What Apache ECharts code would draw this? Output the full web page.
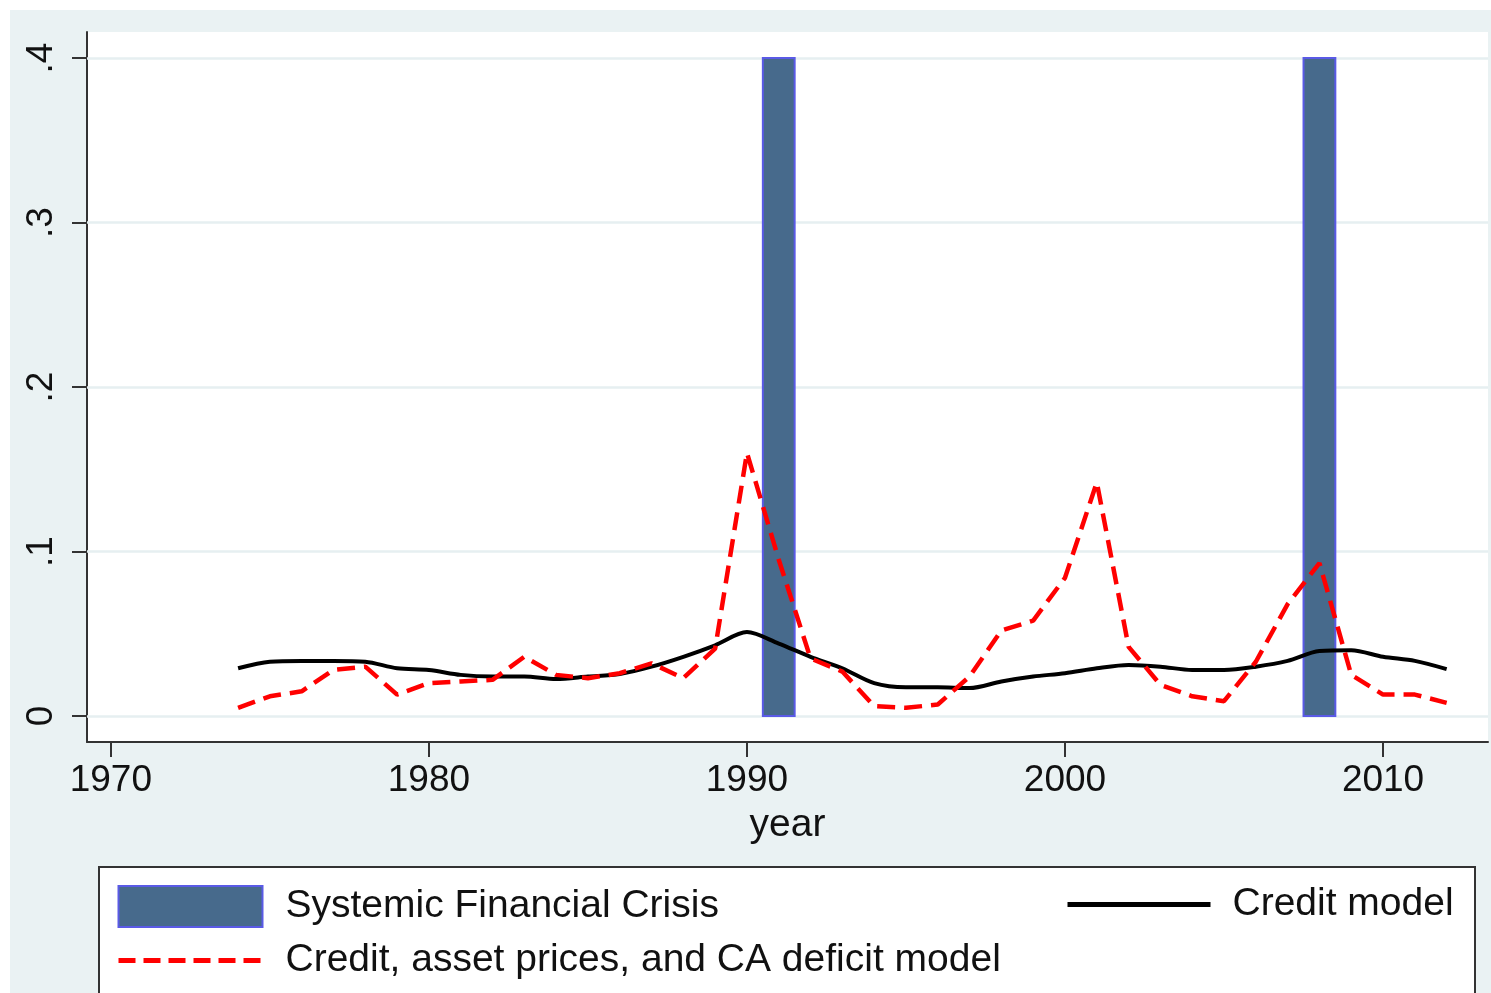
<!DOCTYPE html>
<html>
<head>
<meta charset="utf-8">
<script src="https://cdn.jsdelivr.net/npm/echarts@6/dist/echarts.min.js"></script>
<style>
html,body{margin:0;padding:0;background:#fff;}
#chart{width:1491px;height:993px;}
</style>
</head>
<body>
<div id="chart"></div>
<script>
// ---- data ----
const years = [1974,1975,1976,1977,1978,1979,1980,1981,1982,1983,1984,1985,1986,1987,1988,1989,1990,1991,1992,1993,1994,1995,1996,1997,1998,1999,2000,2001,2002,2003,2004,2005,2006,2007,2008,2009,2010,2011,2012];
const creditModel = [0.029,0.033,0.0335,0.0335,0.033,0.029,0.028,0.025,0.024,0.024,0.0225,0.024,0.0255,0.030,0.036,0.043,0.051,0.044,0.036,0.029,0.020,0.0175,0.0175,0.017,0.021,0.024,0.026,0.029,0.031,0.030,0.028,0.028,0.030,0.0335,0.0395,0.040,0.036,0.0335,0.0285];
const creditAssetCAModel = [0.005,0.012,0.015,0.028,0.030,0.013,0.020,0.021,0.022,0.036,0.025,0.023,0.026,0.032,0.023,0.041,0.160,0.095,0.035,0.027,0.006,0.005,0.007,0.024,0.052,0.058,0.084,0.142,0.042,0.019,0.012,0.009,0.033,0.068,0.093,0.025,0.013,0.013,0.008];
const crisisYears = [1991, 2008];
const crisisHeight = 0.4;
const xTicks = [1970, 1980, 1990, 2000, 2010];
const yTicks = [0, 0.1, 0.2, 0.3, 0.4];
const yTickLabels = ['0', '.1', '.2', '.3', '.4'];

const FONT = "'Liberation Sans', Arial, sans-serif";
const chart = echarts.init(document.getElementById('chart'));

const pair = (a, b) => a.map((v, i) => [v, b[i]]);
const hiddenSymbol = { color: 'rgba(0,0,0,0)', borderColor: 'rgba(0,0,0,0)', borderWidth: 0, opacity: 0 };

chart.setOption({
  backgroundColor: '#ffffff',
  animation: false,
  textStyle: { fontFamily: FONT },
  graphic: [
    { type: 'rect', z: -100, shape: { x: 10, y: 10, width: 1481, height: 983 }, style: { fill: '#eaf2f3' } },
    { type: 'text', z: -90, style: { x: 688, y: 21, text: 'Sweden', fontSize: 52, fontWeight: 'bold', fontFamily: FONT, fill: '#1e3f66', textVerticalAlign: 'bottom' } },
    { type: 'rect', z: -60, shape: { x: 0, y: 0, width: 1491, height: 10 }, style: { fill: '#ffffff' } },
    { type: 'rect', z: -60, shape: { x: 0, y: 0, width: 10, height: 993 }, style: { fill: '#ffffff' } },
    { type: 'rect', z: -50, shape: { x: 99, y: 867, width: 1376, height: 140 }, style: { fill: '#ffffff', stroke: '#333333', lineWidth: 2 } }
  ],
  grid: {
    left: 87, right: 3, top: 32, bottom: 251,
    show: true, backgroundColor: '#ffffff', borderWidth: 0
  },
  xAxis: {
    type: 'value',
    min: 1969.25, max: 2013.3,
    name: 'year', nameLocation: 'middle', nameGap: 64,
    nameTextStyle: { fontSize: 39, color: '#111', fontFamily: FONT },
    axisLine: { show: true, onZero: false, lineStyle: { color: '#333', width: 2 } },
    axisTick: { show: true, length: 15, customValues: xTicks, lineStyle: { color: '#333', width: 2 } },
    axisLabel: { customValues: xTicks, fontSize: 37, color: '#111', margin: 20, fontFamily: FONT, formatter: v => String(v) },
    splitLine: { show: false }
  },
  yAxis: {
    type: 'value',
    min: -0.0158, max: 0.4158,
    axisLine: { show: true, onZero: false, lineStyle: { color: '#333', width: 2 } },
    axisTick: { show: true, length: 15, customValues: yTicks, lineStyle: { color: '#333', width: 2 } },
    axisLabel: {
      customValues: yTicks, rotate: 90, fontSize: 37, color: '#111', margin: 27, fontFamily: FONT,
      formatter: v => { const i = yTicks.findIndex(t => Math.abs(t - v) < 1e-9); return i >= 0 ? yTickLabels[i] : ''; }
    },
    splitLine: { show: false }
  },
  legend: [
    {
      orient: 'vertical', left: 116, top: 885, padding: 0,
      itemWidth: 144, itemHeight: 41, itemGap: 13,
      textStyle: { fontSize: 39, color: '#111', fontFamily: FONT, padding: [0, 0, 0, 18] },
      data: [
        { name: 'Systemic Financial Crisis', icon: 'rect', itemStyle: { color: '#476a8c', borderColor: '#5a5ae6', borderWidth: 2 } },
        { name: 'Credit, asset prices, and CA deficit model', itemStyle: hiddenSymbol,
          lineStyle: { color: '#ff0000', width: 5, type: [17, 8] } }
      ]
    },
    {
      orient: 'vertical', left: 1065, top: 885, padding: 0,
      itemWidth: 143, itemHeight: 41,
      textStyle: { fontSize: 39, color: '#111', fontFamily: FONT, padding: [0, 0, 0, 17] },
      data: [{ name: 'Credit model', itemStyle: hiddenSymbol, lineStyle: { color: '#000', width: 5, type: 'solid' } }]
    }
  ],
  series: [
    {
      name: 'Grid', type: 'line', data: [], silent: true, z: 1,
      markLine: {
        silent: true, symbol: 'none', label: { show: false }, z: 1,
        lineStyle: { color: '#e6eff1', width: 2.5, type: 'solid' },
        data: yTicks.map(v => ({ yAxis: v }))
      }
    },
    {
      name: 'Systemic Financial Crisis', type: 'custom',
      itemStyle: { color: '#476a8c', borderColor: '#5a5ae6', borderWidth: 2 },
      data: crisisYears.map(y => [y, crisisHeight]),
      renderItem: (params, api) => {
        const x = api.value(0), h = api.value(1);
        const p1 = api.coord([x - 0.5, h]);
        const p2 = api.coord([x + 0.5, 0]);
        return {
          type: 'rect',
          shape: { x: p1[0], y: p1[1], width: p2[0] - p1[0], height: p2[1] - p1[1] },
          style: { fill: '#476a8c', stroke: '#5a5ae6', lineWidth: 2 }
        };
      },
      z: 3
    },
    {
      name: 'Credit model', type: 'line',
      data: pair(years, creditModel),
      symbol: 'none', smooth: 0.3,
      lineStyle: { color: '#000', width: 4 },
      itemStyle: { color: '#000' },
      z: 4
    },
    {
      name: 'Credit, asset prices, and CA deficit model', type: 'line',
      data: pair(years, creditAssetCAModel),
      symbol: 'none',
      lineStyle: { color: '#ff0000', width: 4.5, type: [18, 9] },
      itemStyle: { color: '#ff0000' },
      z: 5
    }
  ]
});
</script>
</body>
</html>
